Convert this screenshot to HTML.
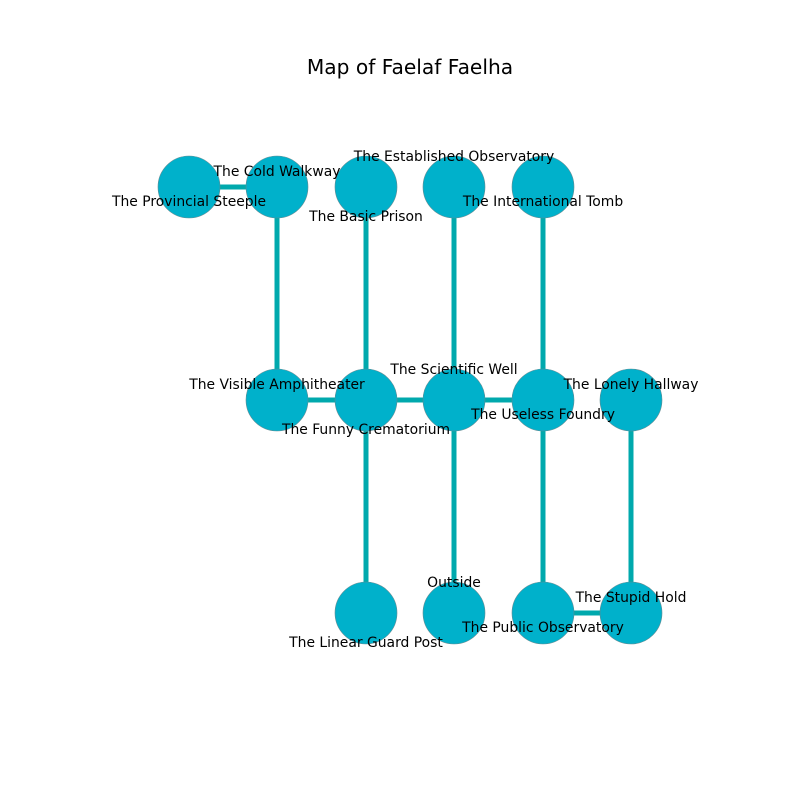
<!DOCTYPE html>
<html><head><meta charset="utf-8"><style>
html,body{margin:0;padding:0;background:#fff;}
svg{display:block;}
text{font-family:"DejaVu Sans","Liberation Sans",sans-serif;fill:#000;}
</style></head><body>
<svg width="800" height="800" viewBox="0 0 800 800" xmlns="http://www.w3.org/2000/svg">
<rect width="800" height="800" fill="#fff"/>
<text x="410" y="67" font-size="20.2" text-anchor="middle" dominant-baseline="central">Map of Faelaf Faelha</text>
<g stroke="#00a9ad" stroke-width="5" fill="none">
<line x1="189" y1="187" x2="277" y2="187"/>
<line x1="277" y1="187" x2="277" y2="400"/>
<line x1="366" y1="187" x2="366" y2="400"/>
<line x1="454" y1="187" x2="454" y2="400"/>
<line x1="543" y1="187" x2="543" y2="400"/>
<line x1="277" y1="400" x2="543" y2="400"/>
<line x1="366" y1="400" x2="366" y2="613"/>
<line x1="454" y1="400" x2="454" y2="613"/>
<line x1="543" y1="400" x2="543" y2="613"/>
<line x1="631" y1="400" x2="631" y2="613"/>
<line x1="543" y1="613" x2="631" y2="613"/>
</g>
<g fill="#00b1cb" stroke="#5f8a92" stroke-width="0.6">
<circle cx="189" cy="187" r="31"/>
<circle cx="277" cy="187" r="31"/>
<circle cx="366" cy="187" r="31"/>
<circle cx="454" cy="187" r="31"/>
<circle cx="543" cy="187" r="31"/>
<circle cx="277" cy="400" r="31"/>
<circle cx="366" cy="400" r="31"/>
<circle cx="454" cy="400" r="31"/>
<circle cx="543" cy="400" r="31"/>
<circle cx="631" cy="400" r="31"/>
<circle cx="366" cy="613" r="31"/>
<circle cx="454" cy="613" r="31"/>
<circle cx="543" cy="613" r="31"/>
<circle cx="631" cy="613" r="31"/>
</g>
<g font-size="13.9" text-anchor="middle" dominant-baseline="central">
<text x="189" y="202">The Provincial Steeple</text>
<text x="277" y="172">The Cold Walkway</text>
<text x="366" y="217">The Basic Prison</text>
<text x="454" y="157">The Established Observatory</text>
<text x="543" y="202">The International Tomb</text>
<text x="277" y="385">The Visible Amphitheater</text>
<text x="366" y="430">The Funny Crematorium</text>
<text x="454" y="370">The Scientific Well</text>
<text x="543" y="415">The Useless Foundry</text>
<text x="631" y="385">The Lonely Hallway</text>
<text x="366" y="643">The Linear Guard Post</text>
<text x="454" y="583">Outside</text>
<text x="543" y="628">The Public Observatory</text>
<text x="631" y="598">The Stupid Hold</text>
</g>
</svg>
</body></html>
